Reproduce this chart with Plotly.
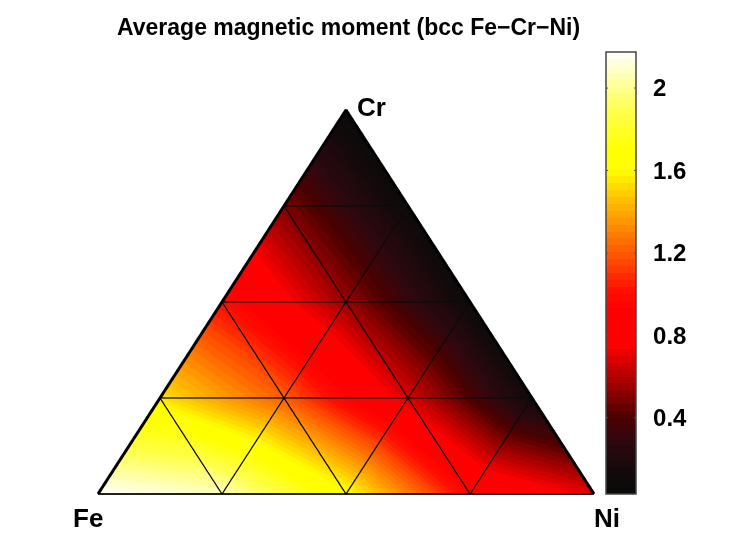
import numpy as np
import plotly.graph_objects as go

# composition lattice, fractions of Cr and Ni at each node (bottom row first)
cr_frac = [0, 0, 0, 0, 0, 0.25, 0.25, 0.25, 0.25, 0.5, 0.5, 0.5, 0.75, 0.75, 1]
ni_frac = [0, 0.25, 0.5, 0.75, 1, 0, 0.25, 0.5, 0.75, 0, 0.25, 0.5, 0, 0.25, 0]
# average moment read at each node
moment = [2.17, 2.07, 1.62, 0.95, 0.7, 1.53, 1.2, 0.68, 0.12, 1.0, 0.55, 0.08, 0.5, 0.08, 0.04]
# triangle corners, as node indices
tri_i = [0, 1, 1, 2, 2, 3, 3, 5, 6, 6, 7, 7, 9, 10, 10, 12]
tri_j = [1, 6, 2, 7, 3, 8, 4, 6, 10, 7, 11, 8, 10, 13, 11, 13]
tri_k = [5, 5, 6, 6, 7, 7, 8, 9, 9, 10, 10, 11, 12, 12, 13, 14]
cbar_ticks = [0.4, 0.8, 1.2, 1.6, 2]
c_min, c_max = 0.03, 2.175
# colormap anchors (position, rgb)
cmap_pos = [0, 0.054, 0.122, 0.176, 0.247, 0.337, 0.416, 0.46, 0.543, 0.665, 0.733, 0.778, 0.869, 0.919, 1]
cmap_rgb = [(10, 10, 10), (21, 10, 12), (48, 8, 16), (80, 0, 0), (160, 0, 0), (255, 0, 0), (255, 0, 0),
            (255, 16, 0), (255, 88, 0), (255, 192, 0), (255, 255, 0), (255, 255, 0), (255, 255, 80),
            (255, 255, 144), (255, 255, 255)]

# the page has an 8px body margin, so the figure is 8px smaller
W, H, OFF = 739, 548, 8

x = np.array(ni_frac) + np.array(cr_frac) / 2
y = np.array(cr_frac)
z = np.zeros(len(x))

# 64 flat bands like a matlab colormap
arr = np.array(cmap_rgb)
colorscale = []
for n in range(64):
    t = (n + 0.5) / 64
    c = [int(np.interp(t, cmap_pos, arr[:, m])) for m in range(3)]
    col = f"rgb({c[0]},{c[1]},{c[2]})"
    colorscale.append([n / 64, col])
    colorscale.append([(n + 1) / 64, col])

fig = go.Figure()
fig.add_trace(go.Mesh3d(
    x=x, y=y, z=z, i=tri_i, j=tri_j, k=tri_k,
    intensity=moment, intensitymode="vertex",
    colorscale=colorscale, cmin=c_min, cmax=c_max,
    flatshading=False, hoverinfo="skip",
    lighting=dict(ambient=1, diffuse=0, specular=0, roughness=1, fresnel=0),
    colorbar=dict(
        x=(606 - OFF) / W, xanchor="left", y=1 - (494 - OFF) / H, yanchor="bottom",
        lenmode="pixels", len=442, thickness=30, thicknessmode="pixels",
        xpad=0, ypad=0, tickvals=cbar_ticks, ticktext=["0.4", "0.8", "1.2", "1.6", "2"],
        ticks="outside", ticklen=12, tickcolor="white", tickwidth=1,
        outlinecolor="#444444", outlinewidth=1.5,
        tickfont=dict(family="Liberation Sans", size=24, color="black", weight=700),
    ),
))

# inner grid lines and the outline
grid_rows = [[5, 8], [9, 11], [12, 13], [1, 13], [2, 11], [3, 8], [1, 5], [2, 9], [3, 12]]
for a, b in grid_rows:
    fig.add_trace(go.Scatter3d(x=[x[a], x[b]], y=[y[a], y[b]], z=[0.01, 0.01], mode="lines",
                               line=dict(color="#0a0a0a", width=2.5), showlegend=False, hoverinfo="skip"))
fig.add_trace(go.Scatter3d(x=[x[0], x[14], x[4]], y=[y[0], y[14], y[4]], z=[0.02] * 3, mode="lines",
                           line=dict(color="black", width=6), showlegend=False, hoverinfo="skip"))
fig.add_trace(go.Scatter3d(x=[x[0], x[4]], y=[y[0], y[4]], z=[0.02] * 2, mode="lines",
                           line=dict(color="black", width=3.5), showlegend=False, hoverinfo="skip"))

annotations = [
    dict(text="<b>Average magnetic moment (bcc Fe\u2212Cr\u2212Ni)</b>", x=348, y=27, showarrow=False, size=23),
    dict(text="<b>Cr</b>", x=371, y=107, showarrow=False, size=26),
    dict(text="<b>Fe</b>", x=88, y=518, showarrow=False, size=26),
    dict(text="<b>Ni</b>", x=607, y=518, showarrow=False, size=26),
]
# colorbar ticks sit inside the bar on both sides, short arrows so they land above it
for t in cbar_ticks:
    py = 494 - (t - c_min) / (c_max - c_min) * 442
    for px, dx in [(606, 5), (636, -5)]:
        annotations.append(dict(text=" ", x=px, y=py, ax=dx, ay=0, showarrow=True, arrowhead=0,
                                arrowwidth=1, arrowcolor="#555555", size=10))
for ann in annotations:
    size = ann.pop("size")
    ann.update(x=(ann["x"] - OFF) / W, y=1 - (ann["y"] - OFF) / H, xref="paper", yref="paper",
               xanchor="center", yanchor="middle",
               font=dict(family="Liberation Sans", size=size, color="black"))

hidden = dict(visible=False)
fig.update_layout(
    width=W, height=H, paper_bgcolor="white", showlegend=False,
    margin=dict(l=0, r=0, t=0, b=0),
    scene=dict(
        domain=dict(x=[0, 676 / W], y=[0, 508 / H]),
        xaxis=dict(hidden, range=[0, 1]), yaxis=dict(hidden, range=[0, 1]), zaxis=dict(hidden, range=[-1, 1]),
        aspectmode="manual", aspectratio=dict(x=1.953, y=1.512, z=0.1),
        camera=dict(projection=dict(type="orthographic"), eye=dict(x=0, y=0, z=2), up=dict(x=0, y=1, z=0),
                    center=dict(x=0, y=0, z=0)),
        bgcolor="white",
    ),
    annotations=annotations,
)

fig.write_html("out.html")
